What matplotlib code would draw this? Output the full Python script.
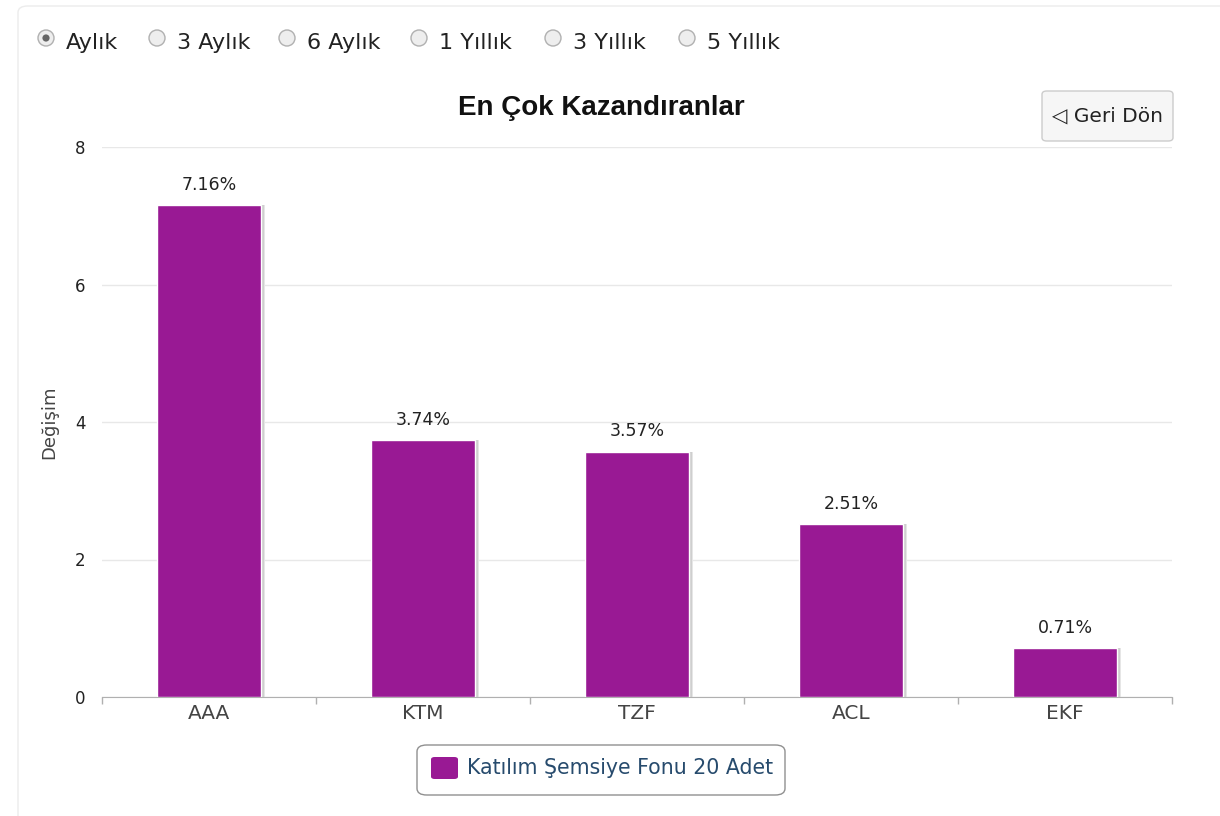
import matplotlib
matplotlib.use("Agg")
import matplotlib.pyplot as plt
from matplotlib.patches import FancyBboxPatch, Circle

categories = ["AAA", "KTM", "TZF", "ACL", "EKF"]
values = [7.16, 3.74, 3.57, 2.51, 0.71]
value_labels = ["7.16%", "3.74%", "3.57%", "2.51%", "0.71%"]
series_name = "Katılım Şemsiye Fonu 20 Adet"
title = "En Çok Kazandıranlar"
y_label = "Değişim"
y_ticks = [0, 2, 4, 6, 8]
radio_labels = ["Aylık", "3 Aylık", "6 Aylık", "1 Yıllık", "3 Yıllık", "5 Yıllık"]
button_label = "◁ Geri Dön"

W, H = 1220, 816
fig = plt.figure(figsize=(W / 100, H / 100), dpi=100)
fig.patch.set_facecolor("white")

def fx(px):
    return px / W

def fy(py):
    return 1 - py / H

bar_color = "#991994"
txt = "#444444"
font = ["DejaVu Sans"]

# outer panel border
fig.patches.append(FancyBboxPatch((fx(18), fy(830)), fx(1300), fy(6) - fy(830),
                                  boxstyle="round,pad=0,rounding_size=0.008",
                                  transform=fig.transFigure, facecolor="none",
                                  edgecolor="#ececec", lw=1.0))

# axes
ax = fig.add_axes([fx(102), fy(697), fx(1172) - fx(102), fy(147) - fy(697)])
x = list(range(len(categories)))
bw = 0.49
# shadows
ax.bar([i + 0.017 for i in x], values, width=bw, color="#e6e6e6", zorder=2,
       edgecolor="none")
ax.bar([i + 0.011 for i in x], values, width=bw, color="#cfcfcf", zorder=2,
       edgecolor="none")
ax.bar(x, values, width=bw, color=bar_color, edgecolor="white",
       linewidth=1.0, zorder=3)
for i, (v, lab) in enumerate(zip(values, value_labels)):
    ax.annotate(lab, (i, v), xytext=(0, 8), textcoords="offset points",
                ha="center", va="bottom", fontsize=12.5, color="#222222",
                family=font)

ax.set_xlim(-0.5, len(categories) - 0.5)
ax.set_ylim(0, 8)
ax.set_yticks(y_ticks)
ax.set_yticklabels([str(t) for t in y_ticks], fontsize=12, color="#222222", family=font)
ax.tick_params(axis="y", length=0, pad=12)
ax.yaxis.grid(True, color="#e8e8e8", lw=1)
ax.set_axisbelow(True)
ax.set_xticks(x)
ax.set_xticklabels(categories, fontsize=14.5, color=txt, family=font)
ax.tick_params(axis="x", length=0, pad=5)
ax.set_xticks([i - 0.5 for i in range(len(categories) + 1)], minor=True)
ax.tick_params(axis="x", which="minor", length=5, color="#b0b0b0", width=1)
for s in ["left", "right", "top"]:
    ax.spines[s].set_visible(False)
ax.spines["bottom"].set_color("#b0b0b0")
ax.set_ylabel(y_label, fontsize=13, color=txt, family=font, labelpad=12)

# title
fig.text(fx(601), fy(108), title, ha="center", va="center", fontsize=20,
         fontweight="bold", family=["Liberation Sans", "DejaVu Sans"], color="#111111")

# radio buttons
radio_x = [46, 157, 287, 419, 553, 687]
for i, (rx, lab) in enumerate(zip(radio_x, radio_labels)):
    ax_r = fig.add_axes([fx(rx - 10), fy(48), fx(20), fy(28) - fy(48)])
    ax_r.set_xlim(-1, 1); ax_r.set_ylim(-1, 1); ax_r.set_aspect("equal")
    ax_r.axis("off")
    ax_r.add_patch(Circle((0, 0), 0.8, facecolor="#eeeeee", edgecolor="#b0b0b0", lw=1))
    if i == 0:
        ax_r.add_patch(Circle((0, 0), 0.36, facecolor="#666666", edgecolor="none"))
    fig.text(fx(rx + 20), fy(43), lab, ha="left", va="center", fontsize=16,
             color="#222222", family=font)

# back button
fig.patches.append(FancyBboxPatch((fx(1042), fy(141)), fx(131), fy(91) - fy(141),
                                  boxstyle="round,pad=0,rounding_size=0.004",
                                  transform=fig.transFigure, facecolor="#f6f6f6",
                                  edgecolor="#cccccc", lw=1.0))
fig.text(fx(1108), fy(116), button_label, ha="center", va="center", fontsize=14.5,
         color="#222222", family=font)

# legend
fig.patches.append(FancyBboxPatch((fx(417), fy(795)), fx(368), fy(745) - fy(795),
                                  boxstyle="round,pad=0,rounding_size=0.008",
                                  transform=fig.transFigure, facecolor="white",
                                  edgecolor="#909090", lw=1.0))
fig.patches.append(FancyBboxPatch((fx(431), fy(779)), fx(27), fy(757) - fy(779),
                                  boxstyle="round,pad=0,rounding_size=0.003",
                                  transform=fig.transFigure, facecolor=bar_color,
                                  edgecolor="none"))
fig.text(fx(467), fy(768), series_name, ha="left", va="center", fontsize=14.8,
         color="#274b6d", family=font)

fig.savefig("out.png", dpi=100)
